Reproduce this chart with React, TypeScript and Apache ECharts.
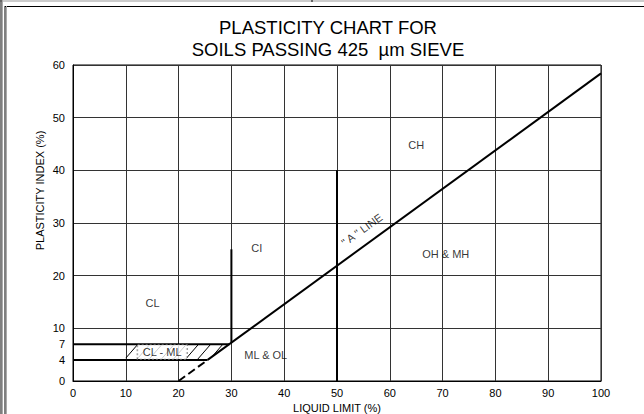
import React, { useEffect, useRef } from "react";
import * as echarts from "echarts";

// ---- data ----
const yLabelValues = [0, 4, 7, 10, 20, 30, 40, 50, 60];
const aLineSolid = [[25.5, 4], [100, 58.4]];
const aLineDashed = [[20, 0], [25.5, 4]];
const pi7Line = [[0, 7], [29.6, 7]];
const pi4Line = [[0, 4], [25.5, 4]];
const ll30Line = [[30, 7.3], [30, 25]];
const ll50Line = [[50, 0], [50, 40]];
const zoneLabels = [
  { name: "CL", value: [15.05, 14.8] },
  { name: "CI", value: [34.8, 25.3] },
  { name: "CH", value: [65.0, 44.8] },
  { name: "OH & MH", value: [70.6, 24.1] },
  { name: "ML & OL", value: [36.5, 4.9] },
];
const clmlLabel = [{ name: "CL - ML", value: [16.9, 5.5] }];
const aLineLabel = [{ name: '" A " LINE', value: [54.7, 28.7] }];
// hatch band of CL-ML zone: from LL 10 to A-line between PI 4 and 7
const hatchBand = { llStart: 10, piLow: 4, piHigh: 7 };
const hatchStep = 2.3;
const hatchRun = 2.6;

const FONT = "'Liberation Sans', Arial, sans-serif";

function buildHatch() {
  const segs: number[][] = [];
  const { llStart, piLow, piHigh } = hatchBand;
  const k = hatchRun / (piHigh - piLow);
  for (let b = llStart - 0.3; b < 30; b += hatchStep) {
    let ylo = piLow;
    ylo = Math.max(ylo, (llStart - b) / k + piLow);
    ylo = Math.max(ylo, (b - piLow * k - 20) / (1 / 0.73 - k));
    const yhi = piHigh;
    if (ylo < yhi - 0.05) {
      segs.push([b + k * (ylo - piLow), ylo, b + k * (yhi - piLow), yhi]);
    }
  }
  return segs;
}

function lineSeries(data: number[][], dashed = false) {
  return {
    type: "line",
    data,
    showSymbol: false,
    silent: true,
    lineStyle: { color: "#000", width: 2, type: dashed ? "dashed" : "solid" },
    z: 5,
  };
}

export default function App() {
  const ref = useRef<HTMLDivElement>(null);
  useEffect(() => {
    if (!ref.current) return;
    const chart = echarts.init(ref.current, null, { renderer: "svg" });
    const hatch = buildHatch();
    chart.setOption({
      animation: false,
      backgroundColor: "#fff",
      textStyle: { fontFamily: FONT },
      grid: {
        left: 73,
        right: 43,
        top: 65,
        bottom: 33,
        containLabel: false,
        outerBoundsMode: "none",
        show: true,
        borderColor: "#000",
        borderWidth: 1,
      },
      xAxis: {
        type: "value",
        min: 0,
        max: 100,
        interval: 10,
        name: "LIQUID LIMIT (%)",
        nameLocation: "middle",
        nameGap: 20,
        nameTextStyle: { color: "#000", fontSize: 11, fontFamily: FONT },
        axisLine: { show: true, lineStyle: { color: "#000", width: 1 } },
        axisTick: { show: false },
        axisLabel: { color: "#000", fontSize: 11, margin: 6, fontFamily: FONT },
        splitLine: { show: true, lineStyle: { color: "#333", width: 1 } },
      },
      yAxis: {
        type: "value",
        min: 0,
        max: 60,
        interval: 10,
        axisLine: { show: true, lineStyle: { color: "#000", width: 1 } },
        axisTick: { show: false },
        axisLabel: {
          color: "#000",
          fontSize: 11,
          margin: 8,
          fontFamily: FONT,
          customValues: yLabelValues,
        },
        splitLine: { show: true, lineStyle: { color: "#333", width: 1 } },
      },
      graphic: [
        { type: "line", shape: { x1: 0, y1: 1, x2: 644, y2: 1 }, style: { stroke: "#999", lineWidth: 1 } },
        { type: "line", shape: { x1: 5, y1: 6.5, x2: 644, y2: 6.5 }, style: { stroke: "#000", lineWidth: 1 } },
        { type: "line", shape: { x1: 312, y1: 0, x2: 312, y2: 2 }, style: { stroke: "#000", lineWidth: 1 } },
        { type: "line", shape: { x1: 1, y1: 0, x2: 1, y2: 414 }, style: { stroke: "#000", lineWidth: 1 } },
        { type: "line", shape: { x1: 2.5, y1: 0, x2: 2.5, y2: 414 }, style: { stroke: "#aaa", lineWidth: 1 } },
        { type: "line", shape: { x1: 5, y1: 6, x2: 5, y2: 414 }, style: { stroke: "#000", lineWidth: 1 } },
        { type: "line", shape: { x1: 6.5, y1: 6, x2: 6.5, y2: 414 }, style: { stroke: "#aaa", lineWidth: 1 } },
        {
          type: "text",
          x: 328,
          y: 27.5,
          style: {
            text: "PLASTICITY CHART FOR",
            fontSize: 18.5,
            fontFamily: FONT,
            fill: "#000",
            textAlign: "center",
            textVerticalAlign: "middle",
          },
        },
        {
          type: "text",
          x: 328,
          y: 49.5,
          style: {
            text: "SOILS PASSING 425 \u00a0\u00b5m SIEVE",
            fontSize: 18.5,
            fontFamily: FONT,
            fill: "#000",
            textAlign: "center",
            textVerticalAlign: "middle",
          },
        },
        {
          type: "text",
          x: 40,
          y: 190.5,
          rotation: Math.PI / 2,
          style: {
            text: "PLASTICITY INDEX (%)",
            fontSize: 11,
            fontFamily: FONT,
            fill: "#000",
            textAlign: "center",
            textVerticalAlign: "middle",
          },
        },
      ],
      series: [
        lineSeries(aLineSolid),
        lineSeries(aLineDashed, true),
        lineSeries(pi7Line),
        lineSeries(pi4Line),
        lineSeries(ll30Line),
        lineSeries(ll50Line),
        {
          type: "custom",
          silent: true,
          z: 4,
          data: hatch,
          renderItem: (params: any, api: any) => {
            const p1 = api.coord([api.value(0), api.value(1)]);
            const p2 = api.coord([api.value(2), api.value(3)]);
            return {
              type: "line",
              shape: { x1: p1[0], y1: p1[1], x2: p2[0], y2: p2[1] },
              style: { stroke: "#000", lineWidth: 1 },
            };
          },
        },
        {
          type: "scatter",
          data: zoneLabels,
          symbolSize: 0,
          silent: true,
          z: 6,
          label: {
            show: true,
            position: "inside",
            formatter: "{b}",
            color: "#000",
            fontSize: 11,
            fontFamily: FONT,
          },
        },
        {
          type: "scatter",
          data: clmlLabel,
          symbolSize: 0,
          silent: true,
          z: 7,
          label: {
            show: true,
            position: "inside",
            formatter: "{b}",
            color: "#000",
            fontSize: 11,
            fontFamily: FONT,
            backgroundColor: "#fff",
            padding: [2, 5, 1, 5],
            borderColor: "#666",
            borderWidth: 1,
            borderType: "dotted",
          },
        },
        {
          type: "scatter",
          data: aLineLabel,
          symbolSize: 0,
          silent: true,
          z: 6,
          label: {
            show: true,
            position: "inside",
            formatter: "{b}",
            rotate: 36,
            color: "#000",
            fontSize: 11,
            fontFamily: FONT,
          },
        },
      ],
    });
    return () => chart.dispose();
  }, []);
  return <div ref={ref} style={{ width: 644, height: 414, position: "fixed", left: 0, top: 0 }} />;
}
